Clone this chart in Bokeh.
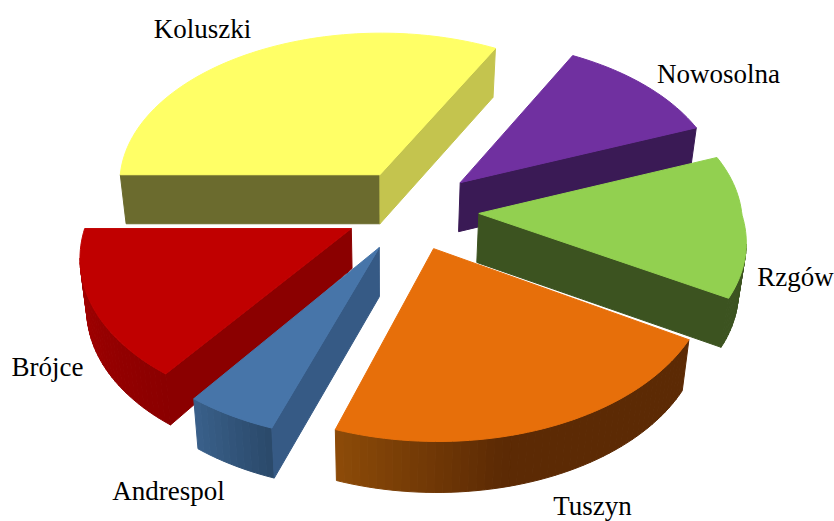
import math
from bokeh.plotting import figure
from bokeh.models import ColumnDataSource, Range1d
from bokeh.core.properties import value
from bokeh.embed import file_html
from bokeh.resources import INLINE

# ---- data ----
names = ["Koluszki", "Nowosolna", "Rzgów", "Tuszyn", "Andrespol", "Brójce"]
shares = [32.6, 11.3, 14.7, 21.6, 4.7, 15.1]

# ---- style ----
top_colors = ["#FFFF66", "#7030A0", "#92D050", "#E76F0A", "#4775A9", "#C00000"]
wall_start = ["#6B6B2E", "#3A1A55", "#3C5320", "#5C2A04", "#365A85", "#8B0000"]
wall_end = ["#C4C44E", "#3A1A55", "#3C5320", "#5C2A04", "#365A85", "#8B0000"]
arc_a = ["#6B6B2E", "#3A1A55", "#3C5320", "#5C2A04", "#2B4A6B", "#8B0000"]
arc_b = ["#6B6B2E", "#3A1A55", "#3C5320", "#8E4C08", "#3A618C", "#A80000"]
arc_hold = [0, 0, 0, 0.6, 0, 0]

# ---- layout ----
CX, CY, VX = 410, 214, 385
R, ASPECT = 263, 0.58
PERSP_NEAR, PERSP_FAR = 0.15, 0.05
EXPLODE_U = [-0.118, 0.191, 0.260, 0.085, -0.115, -0.222]
EXPLODE_V = [-0.264, -0.211, -0.007, 0.2165, 0.210, 0.091]
DEPTH = [49, 49, 49, 51, 50, 51]
APEX_DEPTH = [49, 49, 49, 50, 49, 40]
SHRINK = 0.022
label_pos = {"Koluszki": (202, 28), "Nowosolna": (718, 73), "Rzgów": (795, 276),
             "Tuszyn": (592, 505), "Andrespol": (168, 490), "Brójce": (47, 366)}
draw_order = [0, 1, 2, 5, 4, 3]


def project(u, v):
    w = 1 / (1 - (PERSP_NEAR if v > 0 else PERSP_FAR) * v)
    return CX + R * u * w, CY + R * ASPECT * v * w


def lower(pt, d):
    return VX + (pt[0] - VX) * (1 - SHRINK), pt[1] + d


def hexmix(a, b, f):
    ca = [int(a[i:i + 2], 16) for i in (1, 3, 5)]
    cb = [int(b[i:i + 2], 16) for i in (1, 3, 5)]
    return "#%02x%02x%02x" % tuple(round(x + (y - x) * f) for x, y in zip(ca, cb))


def cross(a, b):
    return a[0] * b[1] - a[1] * b[0]


total = sum(shares)
spans = []
ang = 180.0
for s in shares:
    spans.append((ang, ang - 360 * s / total))
    ang = spans[-1][1]

xs, ys, fills = [], [], []


def add(poly, color):
    xs.append([p[0] for p in poly])
    ys.append([p[1] for p in poly])
    fills.append(color)


for i in draw_order:
    a0, a1 = spans[i]
    au, av = EXPLODE_U[i], EXPLODE_V[i]
    apex = project(au, av)
    n = max(8, int(abs(a1 - a0) / 1.5))
    arc = []
    for k in range(n + 1):
        t = math.radians(a0 + (a1 - a0) * k / n)
        arc.append(project(au + math.cos(t), av - math.sin(t)))
    top = [apex] + arc
    cen = (sum(p[0] for p in top) / len(top), sum(p[1] for p in top) / len(top))

    def facing(p, q):
        d = (q[0] - p[0], q[1] - p[1])
        return cross(d, (0, 1)) * cross(d, (cen[0] - p[0], cen[1] - p[1])) < 0

    d = DEPTH[i]
    ad = APEX_DEPTH[i]
    for k in range(n):
        p, q = arc[k], arc[k + 1]
        if facing(p, q):
            h = arc_hold[i]
            f = max(0, (k / n - h) / (1 - h))
            add([p, q, lower(q, d), lower(p, d)], hexmix(arc_a[i], arc_b[i], f))
    for edge, col in ((arc[0], wall_start[i]), (arc[-1], wall_end[i])):
        if facing(apex, edge):
            add([apex, edge, lower(edge, d), lower(apex, ad)], col)
    add(top, top_colors[i])

p = figure(width=834, height=521, x_range=Range1d(0, 834), y_range=Range1d(521, 0),
           output_backend="svg", toolbar_location=None, min_border=0,
           outline_line_color=None, background_fill_color="white", border_fill_color="white")
p.axis.visible = False
p.grid.visible = False

p.patches("xs", "ys", source=ColumnDataSource(dict(xs=xs, ys=ys, fill=fills)),
          fill_color="fill", line_color="fill", line_width=1)
p.text(x=[label_pos[n][0] for n in names], y=[label_pos[n][1] for n in names], text=names,
       text_font=value("Liberation Serif"), text_font_size="27px", text_color="black",
       text_align="center", text_baseline="alphabetic")

open("out.html", "w").write(file_html(p, INLINE))
